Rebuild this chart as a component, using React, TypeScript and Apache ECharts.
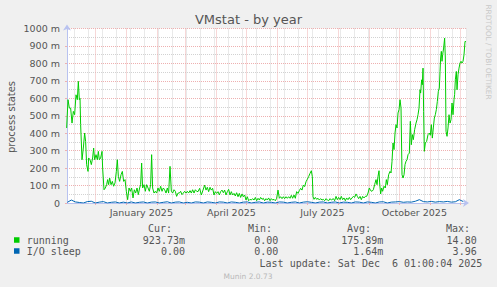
import React, { useEffect, useRef } from 'react';
import * as echarts from 'echarts';

// ---- texts ----
const chartTitle = 'VMstat - by year';
const yAxisTitle = 'process states';
const watermark = 'RRDTOOL / TOBI OETIKER';
const lastUpdate = 'Last update: Sat Dec  6 01:00:04 2025';
const footer = 'Munin 2.0.73';

// ---- x axis: days since 2025-01-01 ----
const xMinDay = -59.33;
const xMaxDay = 340.67;
const monthStartDays = [-31, 0, 31, 59, 90, 120, 151, 181, 212, 243, 273, 304, 334];
const minorGridDays = [-52, -38, -24, -10, 4, 18, 32, 46, 60, 74, 88, 102, 116, 130, 144, 158, 172, 186, 200, 214, 228, 242, 256, 270, 284, 298, 312, 326, 340];
const xLabelDays = [15, 105, 196, 288];
const xLabelNames = ['January 2025', 'April 2025', 'July 2025', 'October 2025'];

// ---- y axis (milli units) ----
const yMin = 0;
const yMax = 1000;
const yStep = 100;

// ---- series: [day, value in m] ----
const running: [number, number][] = [
  [-59.7, 430], [-58.3, 592], [-57.0, 544], [-55.7, 544], [-54.3, 458], [-53.0, 525], [-51.7, 506], [-50.3, 620],
  [-49.0, 592], [-48.0, 697], [-47.0, 592], [-46.3, 600], [-45.7, 449], [-44.3, 248], [-43.0, 315], [-41.7, 401],
  [-40.7, 353], [-39.7, 220], [-38.3, 181], [-37.7, 258], [-36.3, 248], [-35.0, 220], [-33.7, 258], [-32.7, 315],
  [-31.7, 248], [-30.3, 277], [-29.0, 248], [-28.0, 296], [-27.0, 248], [-25.7, 258], [-24.3, 296], [-23.7, 200],
  [-22.3, 76], [-21.0, 86], [-19.7, 105], [-18.7, 134], [-17.7, 105], [-16.7, 143], [-15.3, 105], [-14.0, 124],
  [-12.7, 96], [-11.3, 115], [-10.0, 181], [-9.0, 248], [-8.0, 153], [-6.7, 124], [-5.3, 162], [-4.0, 181],
  [-2.7, 124], [-1.3, 134], [0.0, 67], [1.3, 19], [2.7, 86], [4.0, 67], [5.3, 86], [6.7, 29],
  [8.0, 76], [9.3, 57], [10.7, 86], [12.0, 48], [13.3, 86], [14.3, 105], [15.3, 229], [16.3, 86],
  [17.7, 105], [19.0, 67], [20.3, 105], [21.7, 86], [23.0, 67], [24.3, 105], [25.3, 277], [26.3, 86],
  [27.7, 57], [29.0, 67], [30.3, 57], [31.7, 86], [33.0, 67], [34.3, 96], [35.7, 67], [37.0, 86],
  [38.3, 76], [39.7, 57], [41.0, 86], [42.3, 57], [43.7, 210], [45.0, 67], [46.3, 57], [47.7, 76],
  [49.0, 67], [50.3, 38], [51.7, 57], [53.0, 57], [54.3, 67], [55.7, 48], [57.0, 57], [58.3, 67],
  [59.7, 57], [61.0, 67], [62.3, 57], [63.7, 71], [65.0, 57], [66.3, 76], [67.7, 57], [69.0, 76],
  [70.3, 67], [71.7, 65], [73.3, 84], [75.0, 46], [76.7, 74], [78.3, 103], [79.7, 74], [81.0, 90],
  [82.3, 65], [83.7, 90], [85.0, 74], [86.3, 84], [87.7, 46], [89.0, 65], [90.3, 55], [91.7, 65],
  [93.0, 46], [94.3, 65], [95.7, 74], [97.0, 59], [98.3, 74], [99.7, 46], [101.0, 65], [102.3, 78],
  [103.7, 46], [105.0, 65], [106.3, 46], [107.7, 55], [109.0, 40], [110.3, 59], [111.7, 36], [113.0, 55],
  [114.3, 32], [115.7, 52], [117.0, 36], [118.3, 46], [119.7, 17], [121.0, 36], [122.3, 13], [123.7, 21],
  [125.0, 17], [126.3, 25], [127.7, 17], [129.0, 32], [130.3, 13], [131.7, 27], [133.0, 17], [134.3, 32],
  [135.7, 21], [137.0, 27], [138.3, 13], [139.7, 25], [141.0, 17], [142.3, 29], [143.7, 13], [145.0, 25],
  [146.3, 17], [147.7, 21], [149.0, 13], [150.3, 27], [151.7, 74], [153.0, 27], [154.3, 36], [155.7, 25],
  [157.0, 36], [158.3, 25], [159.7, 36], [161.0, 27], [162.3, 36], [163.7, 27], [165.0, 44], [166.3, 27],
  [167.7, 46], [169.0, 27], [170.3, 65], [171.7, 55], [173.0, 71], [174.3, 84], [175.7, 74], [177.0, 103],
  [178.3, 94], [179.7, 122], [181.0, 136], [182.3, 151], [183.7, 170], [185.0, 185], [186.0, 151], [186.7, 36],
  [187.7, 21], [189.0, 32], [190.3, 21], [191.7, 27], [193.0, 17], [194.3, 25], [195.7, 17], [197.0, 21],
  [198.3, 13], [199.7, 25], [201.0, 17], [202.3, 13], [203.7, 25], [205.0, 17], [207.0, 25], [208.3, 13],
  [209.7, 38], [211.0, 19], [212.3, 32], [213.7, 19], [215.0, 38], [216.3, 19], [217.7, 29], [219.0, 13],
  [220.3, 29], [221.7, 19], [223.0, 32], [224.3, 19], [225.7, 29], [227.0, 38], [228.3, 32], [229.7, 52],
  [231.0, 38], [232.3, 25], [233.7, 38], [235.0, 19], [236.3, 38], [237.7, 29], [239.0, 38], [240.3, 38],
  [241.7, 57], [243.0, 86], [244.3, 71], [245.7, 67], [247.0, 76], [248.3, 105], [249.7, 134], [250.7, 105],
  [251.7, 153], [252.7, 185], [253.3, 115], [254.3, 52], [255.3, 86], [256.3, 67], [257.7, 96], [259.0, 86],
  [260.0, 134], [261.0, 105], [262.3, 162], [263.7, 181], [264.7, 172], [265.7, 239], [266.7, 344], [267.7, 306],
  [268.7, 401], [269.7, 449], [270.7, 430], [271.7, 516], [272.7, 535], [273.7, 592], [274.7, 544], [275.7, 162],
  [276.7, 143], [277.7, 162], [278.7, 220], [279.7, 239], [280.7, 248], [281.7, 277], [283.0, 286], [284.0, 468],
  [285.0, 334], [286.0, 392], [287.0, 363], [288.3, 420], [289.7, 458], [290.7, 477], [291.7, 506], [292.7, 544],
  [293.7, 649], [294.3, 630], [295.3, 706], [296.0, 678], [296.7, 773], [297.3, 525], [298.0, 296], [299.0, 344],
  [300.3, 353], [301.7, 392], [303.0, 401], [304.0, 388], [305.0, 449], [306.0, 372], [307.0, 430], [308.0, 487],
  [309.0, 506], [310.0, 535], [311.0, 582], [312.0, 640], [313.0, 659], [313.7, 754], [314.3, 831], [315.0, 869],
  [315.7, 812], [316.3, 850], [317.3, 888], [318.3, 945], [319.0, 831], [319.7, 411], [320.7, 382], [321.7, 430],
  [322.7, 506], [323.7, 458], [324.7, 477], [325.7, 573], [326.7, 506], [327.7, 592], [328.3, 621], [329.0, 706],
  [330.0, 754], [330.7, 649], [331.7, 735], [332.7, 773], [333.7, 802], [334.7, 812], [335.7, 802], [336.7, 812],
  [337.7, 850], [338.7, 926], [339.7, 924],
];

const ioSleepStartDay = -59;
const ioSleepStepDays = 4;
const ioSleep = [
  4, 17, 6, 3, 0, 8, 10, 0, 5, 8, 0, 4, 6, 0, 5, 0, 6, 0, 4, 6,
  0, 5, 6, 0, 4, 7, 0, 5, 6, 0, 4, 0, 6, 5, 0, 6, 4, 0, 6, 5,
  0, 6, 4, 0, 5, 6, 0, 4, 6, 0, 5, 4, 0, 6, 5, 0, 4, 6, 0, 5,
  7, 4, 0, 5, 6, 0, 4, 6, 0, 5, 4, 0, 6, 5, 0, 6, 4, 0, 6, 7,
  0, 5, 6, 8, 4, 6, 5, 10, 19, 8, 6, 9, 5, 8, 6, 9, 5, 7, 19, 8,
];

const legendRows = [
  { name: 'running', color: '#00cc00', cur: '923.73m', min: '0.00', avg: '175.89m', max: '14.80' },
  { name: 'I/O sleep', color: '#0066b3', cur: '0.00', min: '0.00', avg: '1.64m', max: '3.96' },
];
const legendHeaders = ['Cur:', 'Min:', 'Avg:', 'Max:'];

const SANS = 'DejaVu Sans';
const MONO = 'DejaVu Sans Mono';
const TEXT = '#555555';
const AXIS = '#b8c2f0';
const MAJOR = '#eeb0b0';
const MINOR = '#d2d2d2';

export default function App() {
  const ref = useRef<HTMLDivElement>(null);
  useEffect(() => {
    if (!ref.current) return;
    const chart = echarts.init(ref.current, undefined, { renderer: 'svg' });

    const headerRight = [172, 272, 371, 470];
    const valueRight = [185, 278.3, 383.3, 476.7];
    const rowY = [240, 251];

    const graphic: any[] = [
      { type: 'text', x: 248.5, y: 19.5, style: { text: chartTitle, align: 'center', verticalAlign: 'middle', fill: TEXT, font: `13px "${SANS}"` } },
      { type: 'text', x: 11.5, y: 117, rotation: Math.PI / 2, style: { text: yAxisTitle, align: 'center', verticalAlign: 'middle', fill: TEXT, font: `10px "${SANS}"` } },
      { type: 'text', x: 488, y: 52, rotation: -Math.PI / 2, style: { text: watermark, align: 'center', verticalAlign: 'middle', fill: '#c8c8c8', font: `7.4px "${SANS}"` } },
      { type: 'text', x: 482.3, y: 263.3, style: { text: lastUpdate, align: 'right', verticalAlign: 'middle', fill: TEXT, font: `10px "${MONO}"` } },
      { type: 'text', x: 248, y: 276, style: { text: footer, align: 'center', verticalAlign: 'middle', fill: '#b8b8b8', font: `7.5px "${SANS}"` } },
    ];
    legendHeaders.forEach((h, i) => {
      graphic.push({ type: 'text', x: headerRight[i], y: 228.3, style: { text: h, align: 'right', verticalAlign: 'middle', fill: TEXT, font: `10px "${MONO}"` } });
    });
    legendRows.forEach((r, k) => {
      const y = rowY[k];
      graphic.push({ type: 'rect', shape: { x: 14, y: y - 2.75, width: 5.5, height: 5.5 }, style: { fill: r.color } });
      graphic.push({ type: 'text', x: 26.7, y, style: { text: r.name, align: 'left', verticalAlign: 'middle', fill: TEXT, font: `10px "${MONO}"` } });
      [r.cur, r.min, r.avg, r.max].forEach((v, i) => {
        graphic.push({ type: 'text', x: valueRight[i], y, style: { text: v, align: 'right', verticalAlign: 'middle', fill: TEXT, font: `10px "${MONO}"` } });
      });
    });

    const option: any = {
      animation: false,
      backgroundColor: '#f0f0f0',
      grid: { left: 67, top: 28.5, width: 400, height: 174.5, show: true, backgroundColor: '#ffffff', borderWidth: 0, containLabel: false },
      xAxis: [
        {
          type: 'value', min: xMinDay, max: xMaxDay, position: 'bottom',
          axisLine: { show: false },
          axisTick: { show: false, customValues: minorGridDays },
          axisLabel: { show: false },
          splitLine: { show: true, lineStyle: { color: MINOR, type: [1, 1], width: 1 } },
        },
        {
          type: 'value', min: xMinDay, max: xMaxDay, position: 'bottom',
          axisLine: { show: true, onZero: false, lineStyle: { color: AXIS, width: 1 }, symbol: ['none', 'arrow'], symbolSize: [6, 6], symbolOffset: [0, 2] },
          axisTick: { show: true, customValues: monthStartDays, length: 2, lineStyle: { color: MAJOR } },
          axisLabel: {
            show: true,
            customValues: xLabelDays,
            formatter: (v: number) => { const i = xLabelDays.indexOf(Math.round(v)); return i >= 0 ? xLabelNames[i] : ''; },
            color: TEXT, fontFamily: SANS, fontSize: 9.5, margin: 4,
          },
          splitLine: { show: true, lineStyle: { color: MAJOR, type: [1, 1], width: 1 } },
        },
      ],
      yAxis: {
        type: 'value', min: yMin, max: yMax, interval: yStep,
        axisLine: { show: true, onZero: false, lineStyle: { color: AXIS, width: 1 }, symbol: ['none', 'arrow'], symbolSize: [6, 6], symbolOffset: [0, 4] },
        axisTick: { show: true, length: 2, lineStyle: { color: MAJOR } },
        minorTick: { show: false, splitNumber: 2 },
        axisLabel: { formatter: (v: number) => (v === 0 ? '0' : `${v} m`), color: TEXT, fontFamily: SANS, fontSize: 9.5, margin: 7 },
        splitLine: { show: true, lineStyle: { color: MAJOR, type: [1, 1], width: 1 } },
        minorSplitLine: { show: true, lineStyle: { color: MINOR, type: [1, 1], width: 1 } },
      },
      series: [
        {
          name: 'running', type: 'line', xAxisIndex: 1, showSymbol: false, symbol: 'none',
          data: running, lineStyle: { color: '#00cc00', width: 1 }, itemStyle: { color: '#00cc00' }, z: 3,
        },
        {
          name: 'I/O sleep', type: 'line', xAxisIndex: 1, showSymbol: false, symbol: 'none',
          data: ioSleep.map((v, i) => [ioSleepStartDay + i * ioSleepStepDays, v]),
          lineStyle: { color: '#0066b3', width: 1 }, itemStyle: { color: '#0066b3' }, z: 4,
        },
      ],
      graphic,
    };
    chart.setOption(option);
    return () => chart.dispose();
  }, []);
  return <div ref={ref} style={{ position: 'absolute', left: 0, top: 0, width: 497, height: 287 }} />;
}
